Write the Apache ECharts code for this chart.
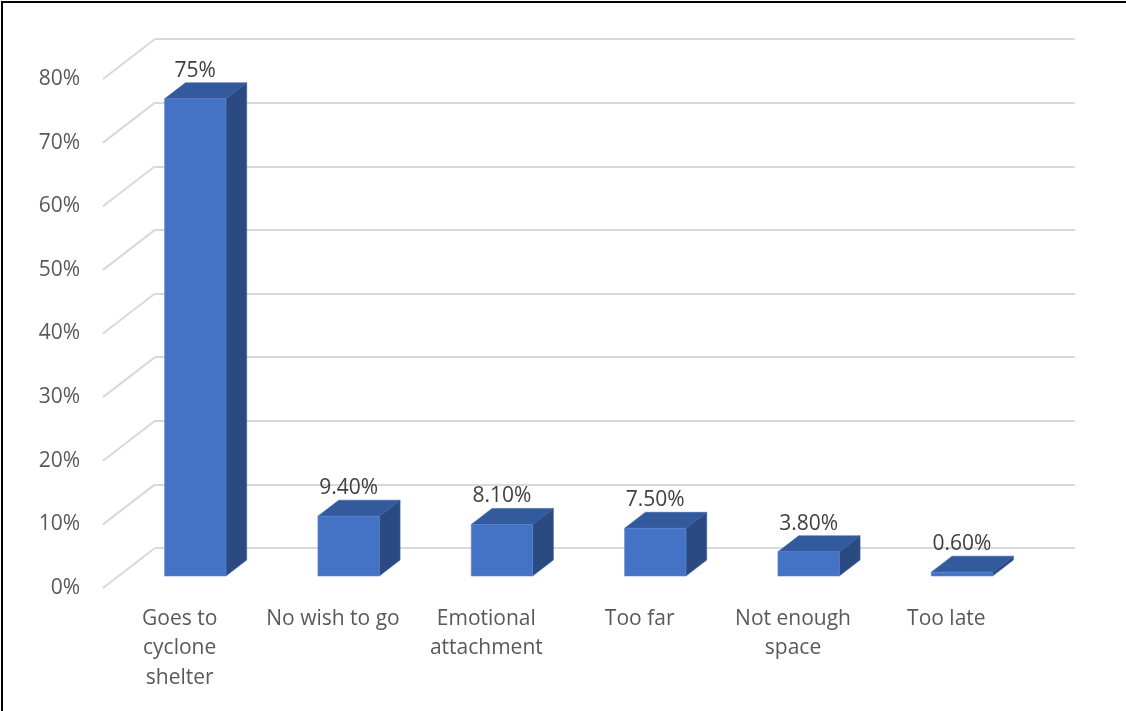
<!DOCTYPE html>
<html>
<head>
<meta charset="utf-8">
<script src="https://cdn.jsdelivr.net/npm/echarts@6/dist/echarts.min.js"></script>
<style>
  html, body { margin: 0; padding: 0; background: #fff; }
  #chart { width: 1126px; height: 711px; }
</style>
</head>
<body>
<div id="chart"></div>
<script>
// Reasons given by households about evacuation (percent of respondents)
const categories = ['Goes to\ncyclone\nshelter', 'No wish to go', 'Emotional\nattachment', 'Too far', 'Not enough\nspace', 'Too late'];
const values = [75, 9.4, 8.1, 7.5, 3.8, 0.6];
const labelDecimals = [0, 2, 2, 2, 2, 2];
const yTicks = [0, 10, 20, 30, 40, 50, 60, 70, 80];

// Perspective: the back wall sits DX px right and DY px up from the front plane
const DX = 52, DY = 40;
const FONT = '"Open Sans", sans-serif';
const TEXT = '#595959';

const chart = echarts.init(document.getElementById('chart'), null, { renderer: 'canvas' });

// Back wall grid (gridlines, bars) and front plane grid (axis labels)
const back = { left: 155, right: 51, top: 39, bottom: 163 };
const front = { left: back.left - DX, right: back.right + DX, top: back.top + DY, bottom: back.bottom - DY };

function wallLines(params, api) {
  const v = api.value(0);
  const p = api.coord([0, v]);
  const x = params.coordSys.x;
  return {
    type: 'line',
    shape: { x1: x - DX, y1: p[1] + DY, x2: x, y2: p[1] },
    style: { stroke: '#d9d9d9', lineWidth: 2 },
    silent: true
  };
}

function box(params, api) {
  const idx = api.value(0);
  const v = api.value(1);
  const top = api.coord([idx, v]);
  const base = api.coord([idx, 0]);
  const band = api.size([1, 0])[0];
  const w = band * 0.4;
  // bar spans depth 0.3..0.7 from the front plane
  const fDepth = 0.7, bDepth = 0.3;
  const fx0 = top[0] - w / 2 - fDepth * DX;
  const fx1 = fx0 + w;
  const fyT = top[1] + fDepth * DY;
  const fyB = base[1] + fDepth * DY;
  const sx = (fDepth - bDepth) * DX, sy = -(fDepth - bDepth) * DY;
  const byT = fyT + sy;
  const text = v.toFixed(labelDecimals[params.dataIndex]) + '%';
  return {
    type: 'group',
    children: [
      { type: 'polygon', shape: { points: [[fx0, fyT], [fx1, fyT], [fx1 + sx, byT], [fx0 + sx, byT]] },
        style: { fill: '#335a9d', stroke: '#3a63a8', lineWidth: 0.6 } },
      { type: 'polygon', shape: { points: [[fx1, fyT], [fx1 + sx, byT], [fx1 + sx, fyB + sy], [fx1, fyB]] },
        style: { fill: '#2b4a82', stroke: '#3a63a8', lineWidth: 0.6 } },
      { type: 'rect', shape: { x: fx0, y: fyT, width: w, height: fyB - fyT },
        style: { fill: '#4472c4', stroke: '#5a84cc', lineWidth: 0.6 } },
      { type: 'text', x: (fx0 + fx1) / 2, y: byT - 12,
        style: { text: text, fill: '#404040', font: '21px ' + FONT, textAlign: 'center', textVerticalAlign: 'middle' } }
    ]
  };
}

chart.setOption({
  animation: false,
  backgroundColor: '#fff',
  grid: [
    Object.assign({ containLabel: false }, back),
    Object.assign({ containLabel: false }, front)
  ],
  xAxis: [
    { type: 'category', gridIndex: 0, data: categories, show: false },
    { type: 'category', gridIndex: 1, data: categories,
      axisLine: { show: false }, axisTick: { show: false },
      axisLabel: { interval: 0, margin: 16, color: TEXT, fontFamily: FONT, fontSize: 21, lineHeight: 29.5, align: 'center' } }
  ],
  yAxis: [
    { type: 'value', gridIndex: 0, min: 0, max: 80, interval: 10,
      axisLine: { show: false }, axisTick: { show: false }, axisLabel: { show: false },
      splitLine: { show: true, lineStyle: { color: '#d9d9d9', width: 2 } } },
    { type: 'value', gridIndex: 1, min: 0, max: 80, interval: 10,
      axisLine: { show: false }, axisTick: { show: false }, splitLine: { show: false },
      axisLabel: { margin: 23, color: TEXT, fontFamily: FONT, fontSize: 21, formatter: '{value}%' } }
  ],
  series: [
    { type: 'custom', xAxisIndex: 0, yAxisIndex: 0, renderItem: wallLines,
      data: yTicks.map(t => [t]), encode: { y: 0 }, z: 1 },
    { type: 'custom', xAxisIndex: 0, yAxisIndex: 0, renderItem: box,
      data: values.map((v, i) => [i, v]), encode: { x: 0, y: 1 }, z: 3 }
  ],
  graphic: [
    { type: 'polyline', shape: { points: [[2, 711], [2, 2], [1126, 2]] },
      style: { stroke: '#000', lineWidth: 2, fill: null }, z: 10 }
  ]
});
</script>
</body>
</html>
